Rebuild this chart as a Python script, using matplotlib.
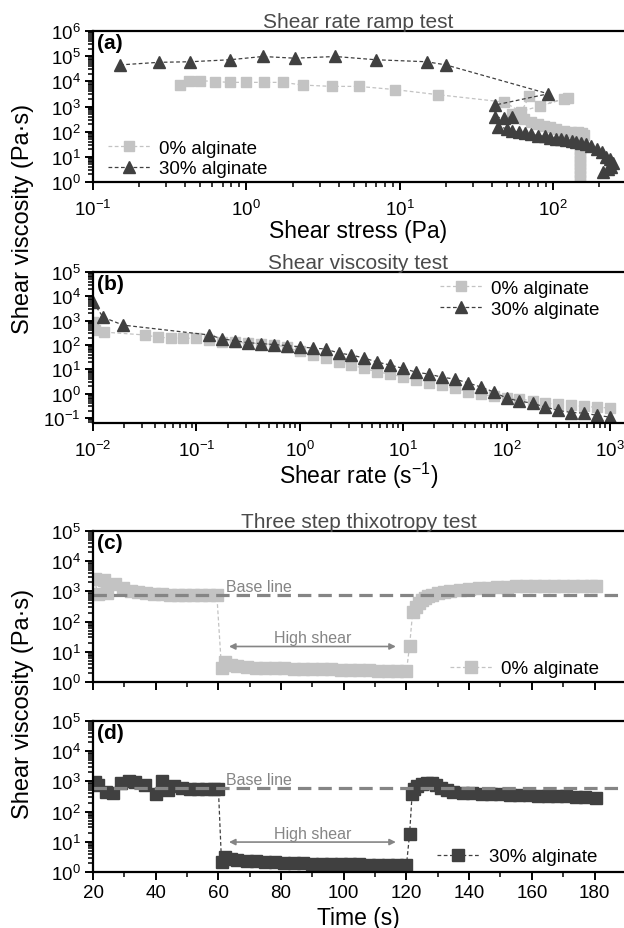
import matplotlib
matplotlib.use("Agg")
import matplotlib.pyplot as plt
from matplotlib.ticker import LogLocator, LogFormatterMathtext, NullFormatter, MultipleLocator

plt.rcParams["font.family"] = ["Liberation Sans", "DejaVu Sans"]
plt.rcParams["mathtext.fontset"] = "custom"
plt.rcParams["mathtext.rm"] = "Liberation Sans"
plt.rcParams["mathtext.it"] = "Liberation Sans:italic"
plt.rcParams["mathtext.bf"] = "Liberation Sans:bold"

LIGHT = "#c3c3c3"
DARK = "#404040"
BASE = "#858585"
TITLE = "#4a4a4a"

# (a) shear rate ramp test: shear stress (Pa) vs viscosity (Pa s)
stress_0 = [0.37, 0.42, 0.50, 0.62, 0.78, 1.0, 1.31, 1.73, 2.34, 3.6, 5.4, 9.3, 17.7,
            48, 62, 70, 82, 117, 125,
            54, 58, 65, 72, 80, 87, 95, 105, 117, 130, 145, 155, 160,
            150, 150, 150, 150, 150, 150, 150, 150, 150, 150, 150, 150]
visc_0a = [7100, 10700, 10700, 9800, 9100, 9100, 9100, 9100, 7100, 6300, 6300, 4700, 2950,
           1500, 600, 2600, 1050, 2000, 2200,
           500, 400, 320, 250, 200, 170, 150, 125, 107, 100, 95, 90, 75,
           60, 45, 30, 20, 14, 10, 7, 5, 3.5, 2.5, 1.8, 1.15]
stress_30 = [0.15, 0.27, 0.43, 0.78, 1.28, 2.07, 3.8, 7.0, 15, 20, 93,
             42, 42, 48, 54, 44, 50, 54, 60, 66, 72, 80, 88, 96, 105, 113, 122, 132,
             142, 153, 165, 178, 192, 208, 222, 236, 247, 240, 229, 213]
visc_30a = [45000, 57000, 60000, 72000, 97000, 83000, 97000, 72000, 60000, 45000, 3200,
            1150, 380, 350, 380, 160, 130, 110, 95, 85, 78, 70, 65, 58, 53, 50, 46, 42,
            39, 35, 31, 27, 21, 15, 10, 8, 5.5, 4, 3.2, 2.5]

# (b) shear viscosity test: shear rate (1/s) vs viscosity (Pa s)
rate_0 = [0.0100, 0.0104, 0.0128, 0.0316, 0.0422, 0.0562, 0.075, 0.100, 0.133, 0.178,
          0.237, 0.316, 0.422, 0.562, 0.75, 1.0, 1.33, 1.78, 2.37, 3.16, 4.22, 5.62, 7.5,
          10, 13.3, 17.8, 23.7, 31.6, 42.2, 56.2, 75, 100, 133, 178, 237, 316, 422, 562,
          750, 1000]
visc_0b = [900, 420, 340, 260, 210, 195, 190, 190, 160, 135, 130, 120, 115, 105, 80, 55,
           40, 30, 20, 15, 11, 7.8, 6.5, 4.8, 3.6, 2.8, 2.2, 1.7, 1.2, 0.95, 0.78, 0.7,
           0.6, 0.52, 0.41, 0.37, 0.34, 0.3, 0.28, 0.26]
rate_30 = [0.0100, 0.0125, 0.0195, 0.133, 0.178, 0.237, 0.316, 0.422, 0.562, 0.75, 1.0,
           1.33, 1.78, 2.37, 3.16, 4.22, 5.62, 7.5, 10, 13.3, 17.8, 23.7, 31.6, 42.2, 56.2,
           75, 100, 133, 178, 237, 316, 422, 562, 750, 1000]
visc_30b = [5900, 1400, 660, 260, 180, 150, 125, 115, 105, 95, 85, 75, 69, 47, 39, 29,
            20, 15, 11, 7.7, 6.4, 4.8, 4.0, 2.8, 1.9, 1.2, 0.66, 0.5, 0.41, 0.28, 0.21,
            0.17, 0.16, 0.13, 0.11]

# (c) three step thixotropy test, 0% alginate
time_c = [20.5, 21.5, 23.5, 24.5, 27, 29.5, 32, 34.5, 37, 39.5, 42, 44.5, 47, 49.5, 52,
          54.5, 57, 59.5,
          61, 62, 64, 66, 69, 72, 75, 78, 81, 84, 87, 90, 93, 96, 99, 102, 105, 108, 111,
          114, 117, 120,
          121, 122, 123, 124, 125, 126, 127, 128, 130, 132, 134, 137, 140, 143, 146, 149,
          152, 155, 158, 161, 164, 167, 170, 173, 176, 179, 180.5]
visc_c = [2500, 800, 2400, 900, 1700, 1300, 1000, 950, 900, 850, 800, 780, 750, 760, 740,
          750, 760, 780,
          2.8, 4.5, 3.6, 3.3, 3.1, 3.0, 2.9, 2.85, 2.8, 2.75, 2.7, 2.65, 2.6, 2.6, 2.55,
          2.5, 2.5, 2.45, 2.4, 2.4, 2.35, 2.3,
          16, 215, 300, 400, 500, 600, 680, 750, 880, 980, 1060, 1150, 1230, 1290, 1340,
          1390, 1430, 1460, 1490, 1510, 1530, 1540, 1550, 1550, 1550, 1540, 1530]

# (d) three step thixotropy test, 30% alginate
time_d = [20.5, 21.5, 24, 26.5, 29, 31.5, 33.5, 36.5, 40, 42, 44, 46, 48.5, 51, 53.5, 56,
          58.5, 60,
          61, 62, 64, 66, 69, 72, 75, 78, 81, 84, 87, 90, 93, 96, 99, 102, 105, 108, 111,
          114, 117, 120,
          121, 121.8, 122.5, 123.5, 125, 126.5, 128, 129.5, 131, 133, 135, 138, 141, 144,
          147, 150, 153, 156, 159, 162, 165, 168, 171, 174, 177, 180.5]
visc_d = [950, 750, 430, 400, 900, 1000, 950, 750, 380, 1050, 500, 700, 600, 570, 560, 580,
          560, 580,
          2.1, 3.1, 2.7, 2.5, 2.35, 2.25, 2.15, 2.1, 2.05, 2.0, 1.95, 1.9, 1.9, 1.85, 1.85,
          1.8, 1.8, 1.75, 1.75, 1.7, 1.7, 1.7,
          18, 380, 550, 700, 830, 880, 860, 740, 600, 500, 450, 420, 400, 390, 380, 370,
          365, 355, 350, 340, 335, 325, 320, 315, 305, 290]

base_c = 740
base_d = 600

fig = plt.figure(figsize=(6.24, 9.29), dpi=100)
W, H = 624, 929


def add_axes(top, bottom, left=93, right=624):
    return fig.add_axes([left / W, 1 - bottom / H, (right - left) / W, (bottom - top) / H])


def style(ax, logx, ydec, xdec=None):
    for side in ["left", "bottom", "top"]:
        ax.spines[side].set_linewidth(1.6)
    ax.spines["right"].set_visible(False)
    ax.set_yscale("log")
    # only the decades inside the view get a label
    ax.set_yticks([10.0 ** k for k in range(ydec[0], ydec[1] + 1)])
    ax.yaxis.set_minor_locator(LogLocator(base=10, subs=range(2, 10), numticks=20))
    ax.yaxis.set_major_formatter(LogFormatterMathtext())
    ax.yaxis.set_minor_formatter(NullFormatter())
    if logx:
        ax.set_xscale("log")
        ax.set_xticks([10.0 ** k for k in range(xdec[0], xdec[1] + 1)])
        ax.xaxis.set_minor_locator(LogLocator(base=10, subs=range(2, 10), numticks=20))
        ax.xaxis.set_major_formatter(LogFormatterMathtext())
        ax.xaxis.set_minor_formatter(NullFormatter())
    ax.tick_params(which="major", direction="out", length=6, width=1.4, labelsize=13.5, pad=3)
    ax.tick_params(which="minor", direction="out", length=3.5, width=1.1)
    if logx:
        ax.tick_params(axis="x", which="major", pad=6)
    ax.tick_params(top=False, right=False)


line_kw = dict(linestyle=(0, (3, 2)), lw=0.9)
leg_kw = dict(frameon=False, fontsize=13.5, handlelength=2.25, handletextpad=0.5,
              labelspacing=0.2, borderpad=0, borderaxespad=0, numpoints=1)

# (a)
ax1 = add_axes(32, 183)
style(ax1, True, (0, 6), (-1, 2))
ax1.plot(stress_0, visc_0a, color=LIGHT, marker="s", ms=7.5, label="0% alginate", **line_kw)
ax1.plot(stress_30, visc_30a, color=DARK, marker="^", ms=8.5, label="30% alginate", **line_kw)
ax1.set_xlim(0.1, 290)
ax1.set_ylim(1, 1e6)
ax1.set_xlabel("Shear stress (Pa)", fontsize=16.5, labelpad=0)
ax1.set_title("Shear rate ramp test", fontsize=15, color=TITLE, pad=2)
ax1.text(0.008, 0.985, "(a)", transform=ax1.transAxes, fontsize=15, fontweight="bold",
         va="top", ha="left")
ax1.legend(loc="lower left", bbox_to_anchor=(0.028, 0.03), **leg_kw)

# (b)
ax2 = add_axes(273, 424)
style(ax2, True, (-1, 5), (-2, 3))
ax2.plot(rate_0, visc_0b, color=LIGHT, marker="s", ms=7.5, label="0% alginate", **line_kw)
ax2.plot(rate_30, visc_30b, color=DARK, marker="^", ms=8.5, label="30% alginate", **line_kw)
ax2.set_xlim(0.01, 1365)
ax2.set_ylim(0.063, 1e5)
ax2.set_xlabel("Shear rate (s$^{-1}$)", fontsize=16.5, labelpad=0)
ax2.set_title("Shear viscosity test", fontsize=15, color=TITLE, pad=2)
ax2.text(0.008, 0.985, "(b)", transform=ax2.transAxes, fontsize=15, fontweight="bold",
         va="top", ha="left")
ax2.legend(loc="upper left", bbox_to_anchor=(0.653, 0.95), **leg_kw)

# (c) and (d)
ax3 = add_axes(532, 683)
ax4 = add_axes(722, 873)
panels = [(ax3, time_c, visc_c, LIGHT, "0% alginate", base_c, "(c)", 0.672, 0.03),
          (ax4, time_d, visc_d, DARK, "30% alginate", base_d, "(d)", 0.648, 0.045)]
for ax, t, v, col, lab, base, tag, lx, ly in panels:
    style(ax, False, (0, 5))
    ax.plot(t, v, color=col, marker="s", ms=8, label=lab, **line_kw)
    ax.axhline(base, color=BASE, lw=2.3, linestyle=(0, (4.2, 2.2)))
    ax.set_xlim(20, 189.4)
    ax.set_ylim(1, 1e5)
    ax.xaxis.set_major_locator(MultipleLocator(20))
    ax.xaxis.set_minor_locator(MultipleLocator(10))
    ax.text(62.5, base * 1.1, "Base line", fontsize=11.5, color=BASE, va="bottom", ha="left")
    ax.text(0.008, 0.985, tag, transform=ax.transAxes, fontsize=15, fontweight="bold",
            va="top", ha="left")
    ax.legend(loc="lower left", bbox_to_anchor=(lx, ly), **leg_kw)

ax3.annotate("", xy=(62.5, 15), xytext=(117.5, 15),
             arrowprops=dict(arrowstyle="<|-|>", color=BASE, lw=1.2, mutation_scale=9))
ax3.text(90, 17, "High shear", fontsize=11.5, color=BASE, ha="center", va="bottom")
ax4.annotate("", xy=(62.5, 9.8), xytext=(117.5, 9.8),
             arrowprops=dict(arrowstyle="<|-|>", color=BASE, lw=1.2, mutation_scale=9))
ax4.text(90, 11, "High shear", fontsize=11.5, color=BASE, ha="center", va="bottom")

ax3.set_title("Three step thixotropy test", fontsize=15, color=TITLE, pad=2)
ax3.tick_params(labelbottom=False)
ax4.set_xlabel("Time (s)", fontsize=16.5, labelpad=3)

fig.text(0.037, 1 - 219 / H, "Shear viscosity (Pa·s)", rotation=90, fontsize=17,
         ha="center", va="center")
fig.text(0.037, 1 - 704 / H, "Shear viscosity (Pa·s)", rotation=90, fontsize=17,
         ha="center", va="center")

fig.savefig("out.png", dpi=100)
